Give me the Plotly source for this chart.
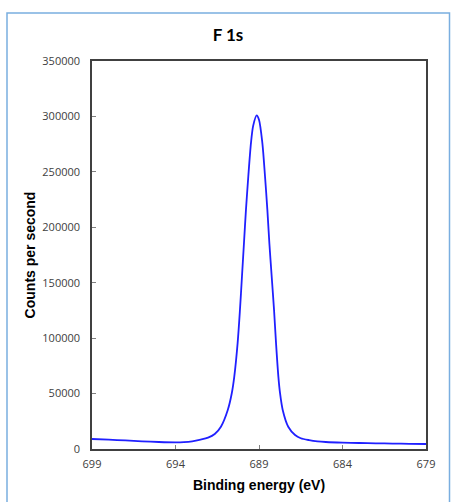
import plotly.graph_objects as go

# F 1s XPS spectrum: binding energy (eV) vs counts per second
binding_energy = [
    699.0, 698.0, 697.0, 696.0, 695.0, 694.0, 693.5, 693.0, 692.5, 692.05,
    691.65, 691.28, 690.87, 690.63, 690.48, 690.28, 690.14, 690.02, 689.90, 689.78,
    689.64, 689.48, 689.35, 689.14, 689.0, 688.80, 688.64, 688.50, 688.38, 688.24,
    688.10, 687.98, 687.84, 687.74, 687.58, 687.25, 686.84, 686.5, 686.0, 685.5,
    685.0, 684.0, 683.0, 682.0, 681.0, 680.0, 679.0,
]
counts = [
    9000, 8400, 7700, 6900, 6300, 6000, 6200, 6900, 8400, 10200,
    13500, 20100, 35200, 50300, 65300, 95500, 125600, 155600, 185800, 215900,
    246000, 276100, 291500, 301000, 297000, 276100, 246000, 215900, 185800, 155600,
    125600, 95500, 65300, 50300, 35200, 20100, 12600, 9700, 8000, 6900,
    6300, 5700, 5400, 5100, 4900, 4700, 4500,
]

x_ticks = [699, 694, 689, 684, 679]
y_ticks = [0, 50000, 100000, 150000, 200000, 250000, 300000, 350000]

fig = go.Figure()
fig.add_trace(go.Scatter(
    x=binding_energy, y=counts, mode="lines",
    line=dict(color="#2020ff", width=1.8, shape="spline", smoothing=0.8),
    hoverinfo="skip", showlegend=False,
))

axis_common = dict(
    showline=True, linecolor="#404040", linewidth=1.5, mirror=True,
    showgrid=False, zeroline=False,
    ticks="inside", ticklen=4, tickcolor="#808080", tickwidth=1,
    tickfont=dict(family="Open Sans", size=11, color="#404040"),
)

fig.update_layout(
    width=451, height=502,
    margin=dict(l=92, r=25, t=61, b=53),
    paper_bgcolor="white", plot_bgcolor="white",
    title=dict(text="<b>F 1s</b>", x=228 / 451, xanchor="center",
               y=1 - 35 / 502, yanchor="middle",
               font=dict(family="Lato", size=17, color="#000000")),
    xaxis=dict(range=[699, 679], tickvals=x_ticks, ticktext=[str(v) for v in x_ticks],
               ticklabelstandoff=4,
               title=dict(text="<b>Binding energy (eV)</b>", standoff=10,
                          font=dict(family="Liberation Sans", size=14, color="#000000")),
               **axis_common),
    yaxis=dict(range=[0, 350000], tickvals=y_ticks, ticktext=[str(v) for v in y_ticks],
               ticklabelstandoff=8,
               title=dict(text="<b>Counts per second</b>", standoff=3,
                          font=dict(family="Liberation Sans", size=14, color="#000000")),
               **axis_common),
    shapes=[dict(type="rect", xref="paper", yref="paper",
                 x0=(7 - 92) / 334, x1=(449.5 - 92) / 334,
                 y0=(449 - 506) / 388, y1=(449 - 13) / 388,
                 line=dict(color="#7aaee0", width=1.5), fillcolor="rgba(0,0,0,0)",
                 layer="below")],
)

fig.write_html("out.html")
